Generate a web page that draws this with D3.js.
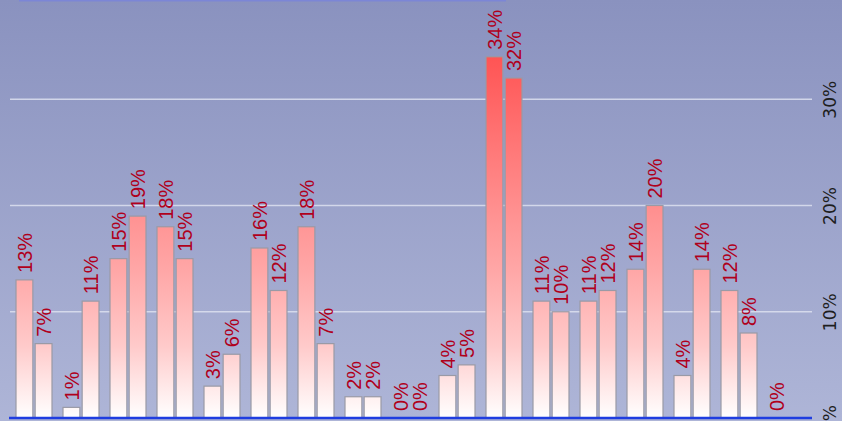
<!DOCTYPE html>
<html>
<head>
<meta charset="utf-8">
<script src="https://cdn.jsdelivr.net/npm/d3@7"></script>
<style>
  html, body { margin: 0; padding: 0; background: #9aa2c9; }
  svg { display: block; }
</style>
</head>
<body>
<svg id="chart" width="842" height="421"></svg>
<script>
// Paired shares per group (fractions); null = no value
const categories = ["G1","G2","G3","G4","G5","G6","G7","G8","G9","G10","G11","G12","G13","G14","G15","G16","G17"];
const seriesA = [0.13, 0.01, 0.15, 0.18, 0.03, 0.16, 0.18, 0.02, 0.00, 0.04, 0.34, 0.11, 0.11, 0.14, 0.04, 0.12, 0.00];
const seriesB = [0.07, 0.11, 0.19, 0.15, 0.06, 0.12, 0.07, 0.02, 0.00, 0.05, 0.32, 0.10, 0.12, 0.20, 0.14, 0.08, null];
const yTicks = [0, 0.1, 0.2, 0.3];

const W = 842, H = 421;
const svg = d3.select("#chart");
const defs = svg.append("defs");

// background wash
const bg = defs.append("linearGradient").attr("id", "bg")
  .attr("x1", 0).attr("y1", 0).attr("x2", 0).attr("y2", 1);
bg.append("stop").attr("offset", "0%").attr("stop-color", "#8a92bf");
bg.append("stop").attr("offset", "100%").attr("stop-color", "#aeb5d7");
svg.append("rect").attr("width", W).attr("height", H).attr("fill", "url(#bg)");

const x0 = d3.scaleBand().domain(categories).range([12, 811]).padding(0);
const x1 = d3.scaleBand().domain([0, 1]).range([4, 40]).paddingInner(0.12);
const y = d3.scaleLinear().domain([0, 0.4]).range([418, -7]);

// bar fill: white at the baseline, deepening to red up the value axis
const barGrad = defs.append("linearGradient").attr("id", "barFill")
  .attr("gradientUnits", "userSpaceOnUse")
  .attr("x1", 0).attr("x2", 0)
  .attr("y1", y(0)).attr("y2", y(0.34));
[[0, "#ffffff"], [0.2, "#ffcaca"], [0.4, "#ffa8a8"], [0.56, "#ff9292"], [1, "#ff5454"]]
  .forEach(([o, c]) => barGrad.append("stop").attr("offset", o).attr("stop-color", c));

// gridlines
svg.append("g").selectAll("line")
  .data(yTicks.filter(d => d > 0))
  .join("line")
  .attr("x1", 10).attr("x2", 812)
  .attr("y1", d => y(d)).attr("y2", d => y(d))
  .attr("stroke", "#dde0f0").attr("stroke-opacity", 0.85).attr("stroke-width", 1.5);

// top border strip
svg.append("line")
  .attr("x1", 19).attr("x2", 506).attr("y1", 0.5).attr("y2", 0.5)
  .attr("stroke", "#7c86d6").attr("stroke-width", 2);

const rows = [];
categories.forEach((c, i) => {
  [seriesA[i], seriesB[i]].forEach((v, k) => {
    if (v !== null) rows.push({ c, k, v });
  });
});

const fmt = d3.format(".0%");

const groups = svg.append("g");
groups.selectAll("rect")
  .data(rows.filter(d => d.v > 0))
  .join("rect")
  .attr("x", d => x0(d.c) + x1(d.k))
  .attr("y", d => y(d.v))
  .attr("width", x1.bandwidth())
  .attr("height", d => y(0) - y(d.v))
  .attr("fill", "url(#barFill)")
  .attr("stroke", "#9a9aa6").attr("stroke-width", 1.2);

// value labels, rotated to read upward
groups.selectAll("text")
  .data(rows)
  .join("text")
  .attr("transform", d => {
    const cx = x0(d.c) + x1(d.k) + x1.bandwidth() / 2;
    const cy = y(d.v) - 7;
    return `translate(${cx},${cy}) rotate(-90)`;
  })
  .attr("dy", "0.36em")
  .attr("text-anchor", "start")
  .attr("font-family", "'Liberation Sans', Arial, sans-serif")
  .attr("font-size", 20)
  .attr("fill", "#b0001c")
  .text(d => fmt(d.v));

// baseline
svg.append("line")
  .attr("x1", 9).attr("x2", 812).attr("y1", y(0)).attr("y2", y(0))
  .attr("stroke", "#1f3de0").attr("stroke-width", 2.5);

// value axis on the right
const axis = d3.axisRight(y).tickValues(yTicks).tickFormat(fmt).tickSize(0);
const ax = svg.append("g").attr("transform", "translate(830,0)").call(axis);
ax.select(".domain").remove();
ax.selectAll("text")
  .attr("x", 0).attr("y", 0).attr("dy", "0.36em")
  .attr("text-anchor", "middle")
  .attr("transform", "rotate(-90)")
  .attr("font-family", "'DejaVu Sans', Verdana, sans-serif")
  .attr("font-size", 17)
  .attr("fill", "#1e1e1e");
</script>
</body>
</html>
